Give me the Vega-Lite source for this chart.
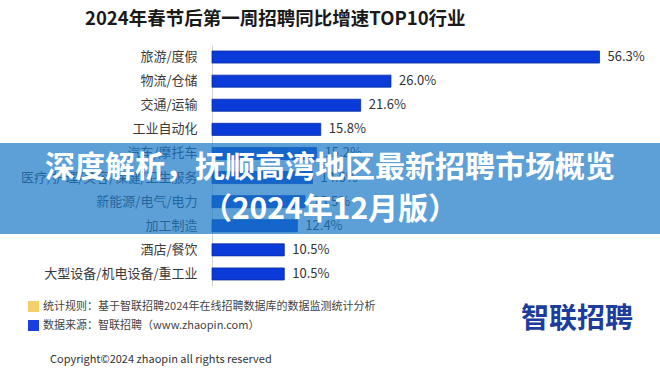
{
  "$schema": "https://vega.github.io/schema/vega-lite/v6.json",
  "width": 413,
  "height": 241,
  "autosize": {"type": "none"},
  "padding": {"left": 212, "top": 45, "right": 35, "bottom": 86},
  "background": "white",
  "config": {"view": {"stroke": null}, "font": "Noto Sans CJK SC"},
  "title": {
    "text": "2024年春节后第一周招聘同比增速TOP10行业",
    "fontSize": 18.5,
    "fontWeight": "bold",
    "color": "#1a1a1a",
    "anchor": "start",
    "frame": "group",
    "dx": -127,
    "offset": 16,
    "font": "Noto Sans CJK SC"
  },
  "data": {
    "values": [
      {"industry": "旅游/度假", "value": 56.3, "label": "56.3%"},
      {"industry": "物流/仓储", "value": 26.0, "label": "26.0%"},
      {"industry": "交通/运输", "value": 21.6, "label": "21.6%"},
      {"industry": "工业自动化", "value": 15.8, "label": "15.8%"},
      {"industry": "汽车/摩托车", "value": 15.2, "label": "15.2%"},
      {"industry": "医疗/护理/美容/保健/卫生服务", "value": 14.6, "label": "14.6%"},
      {"industry": "新能源/电气/电力", "value": 13.5, "label": "13.5%"},
      {"industry": "加工制造", "value": 12.4, "label": "12.4%"},
      {"industry": "酒店/餐饮", "value": 10.5, "label": "10.5%"},
      {"industry": "大型设备/机电设备/重工业", "value": 10.5, "label": "10.5%"}
    ]
  },
  "layer": [
    {
      "mark": {"type": "bar", "color": "#0a3ad8", "stroke": "#0a2c9e", "strokeWidth": 0.8},
      "encoding": {
        "y": {
          "field": "industry",
          "type": "nominal",
          "sort": null,
          "scale": {"paddingInner": 0.5, "paddingOuter": 0.25},
          "axis": {
            "title": null,
            "ticks": false,
            "domain": true,
            "domainColor": "#d4d4d4",
            "labelFontSize": 13,
            "labelColor": "#3a3a3a",
            "labelPadding": 15,
            "labelLimit": 260,
            "labelFont": "Noto Sans CJK SC"
          }
        },
        "x": {"field": "value", "type": "quantitative", "scale": {"domain": [0, 60]}, "axis": null}
      }
    },
    {
      "mark": {"type": "text", "align": "left", "baseline": "middle", "dx": 8, "fontSize": 13, "color": "#333333"},
      "encoding": {
        "y": {"field": "industry", "type": "nominal", "sort": null},
        "x": {"field": "value", "type": "quantitative"},
        "text": {"field": "label"}
      }
    },
    {
      "data": {"values": [{"note": "banner"}]},
      "mark": {"type": "rect", "x": -212, "x2": 448, "y": 98, "y2": 189, "color": "#1878c8", "opacity": 0.7},
      "encoding": {}
    },
    {
      "data": {"values": [{"t": "深度解析，抚顺高湾地区最新招聘市场概览"}]},
      "mark": {"type": "text", "x": 118, "y": 123, "align": "center", "baseline": "middle", "fontSize": 30, "fontWeight": "bold", "color": "white"},
      "encoding": {"text": {"field": "t"}}
    },
    {
      "data": {"values": [{"t": "（2024年12月版）"}]},
      "mark": {"type": "text", "x": 118, "y": 165, "align": "center", "baseline": "middle", "fontSize": 30, "fontWeight": "bold", "color": "white"},
      "encoding": {"text": {"field": "t"}}
    },
    {
      "data": {"values": [{"note": "y"}]},
      "mark": {"type": "rect", "x": -184, "x2": -173, "y": 256, "y2": 267, "color": "#f5cf6a"},
      "encoding": {}
    },
    {
      "data": {"values": [{"note": "b"}]},
      "mark": {"type": "rect", "x": -184, "x2": -173, "y": 275, "y2": 286, "color": "#1a3ee0"},
      "encoding": {}
    },
    {
      "data": {"values": [{"t": "统计规则：基于智联招聘2024年在线招聘数据库的数据监测统计分析"}]},
      "mark": {"type": "text", "x": -169, "y": 261.5, "align": "left", "baseline": "middle", "fontSize": 11, "color": "#444444"},
      "encoding": {"text": {"field": "t"}}
    },
    {
      "data": {"values": [{"t": "数据来源：智联招聘（www.zhaopin.com）"}]},
      "mark": {"type": "text", "x": -169, "y": 280.5, "align": "left", "baseline": "middle", "fontSize": 11, "color": "#444444"},
      "encoding": {"text": {"field": "t"}}
    },
    {
      "data": {"values": [{"t": "智联招聘"}]},
      "mark": {"type": "text", "x": 365, "y": 275, "align": "center", "baseline": "middle", "fontSize": 28, "fontWeight": "bold", "color": "#1d3d9c"},
      "encoding": {"text": {"field": "t"}}
    },
    {
      "data": {"values": [{"note": "line"}]},
      "mark": {"type": "rule", "x": -187, "x2": 423, "y": 300, "color": "#999999", "strokeWidth": 1},
      "encoding": {}
    },
    {
      "data": {"values": [{"t": "Copyright©2024 zhaopin all rights reserved"}]},
      "mark": {"type": "text", "x": -162, "y": 315, "align": "left", "baseline": "middle", "fontSize": 11, "color": "#333333"},
      "encoding": {"text": {"field": "t"}}
    }
  ]
}
